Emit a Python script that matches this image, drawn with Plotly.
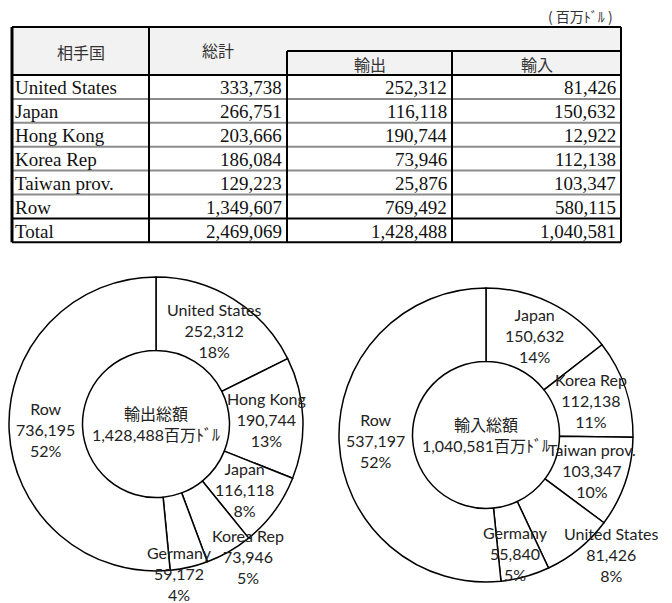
import math
import plotly.graph_objects as go

W, H = 672, 603
OFF = 8  # page body margin

# table data (百万ドル)
partners = ["United States", "Japan", "Hong Kong", "Korea Rep", "Taiwan prov.", "Row", "Total"]
totals = [333738, 266751, 203666, 186084, 129223, 1349607, 2469069]
exports = [252312, 116118, 190744, 73946, 25876, 769492, 1428488]
imports = [81426, 150632, 12922, 112138, 103347, 580115, 1040581]
headers = ["相手国", "総計", "輸出", "輸入"]
unit_label = "( 百万ﾄﾞﾙ )"

# pie data
export_labels = ["United States", "Hong Kong", "Japan", "Korea Rep", "Germany", "Row"]
export_values = [252312, 190744, 116118, 73946, 59172, 736195]
import_labels = ["Japan", "Korea Rep", "Taiwan prov.", "United States", "Germany", "Row"]
import_values = [150632, 112138, 103347, 81426, 55840, 537197]

# table layout in pixels
col_x = [12, 149, 287, 452, 621]
top_y = 27
sub_y = 51
head_y = 75
row_h = 23.9


def px(x):
    return (x - OFF) / W


def py(y):
    return 1 - (y - OFF) / H


shapes = []
annotations = []


def line(x0, y0, x1, y1, color="black", width=2):
    shapes.append(dict(type="line", xref="paper", yref="paper",
                       x0=px(x0), y0=py(y0), x1=px(x1), y1=py(y1),
                       line=dict(color=color, width=width)))


def text(x, y, s, xanchor="center", font=None):
    annotations.append(dict(xref="paper", yref="paper", x=px(x), y=py(y), text=s,
                            showarrow=False, xanchor=xanchor, yanchor="middle",
                            font=font or dict(family="Liberation Serif", size=19, color="#111")))


n = len(partners)
bottom_y = head_y + row_h * n

# header background
shapes.append(dict(type="rect", xref="paper", yref="paper", x0=px(col_x[0]), y0=py(top_y),
                   x1=px(col_x[-1]), y1=py(head_y), fillcolor="#f2f2f2", line=dict(width=0), layer="below"))

# row separators
for i in range(1, n):
    y = head_y + row_h * i
    if i == n - 1:
        line(col_x[0], y, col_x[-1], y)
    else:
        line(col_x[0], y, col_x[-1], y, color="#8c8c8c", width=2)
line(col_x[0], head_y, col_x[-1], head_y)
line(col_x[2], sub_y, col_x[-1], sub_y)
line(col_x[1], top_y, col_x[1], bottom_y)
line(col_x[2], sub_y, col_x[2], bottom_y)
line(col_x[3], sub_y, col_x[3], bottom_y)
# outer border
line(col_x[0], top_y, col_x[-1], top_y)
line(col_x[0], bottom_y, col_x[-1], bottom_y)
line(col_x[0], top_y, col_x[0], bottom_y, width=3)
line(col_x[-1], top_y, col_x[-1], bottom_y)

hfont = dict(family="Noto Sans CJK JP", size=16, color="#333")
text((col_x[0] + col_x[1]) / 2, (top_y + head_y) / 2 + 1, headers[0], font=hfont)
text((col_x[1] + col_x[2]) / 2, (top_y + head_y) / 2 - 1, headers[1], font=hfont)
text((col_x[2] + col_x[3]) / 2, (sub_y + head_y) / 2 + 1, headers[2], font=hfont)
text((col_x[3] + col_x[4]) / 2, (sub_y + head_y) / 2 + 1, headers[3], font=hfont)
text(col_x[-1] - 6, 16, unit_label, xanchor="right",
     font=dict(family="Noto Sans CJK JP", size=14, color="#333"))

for i in range(n):
    yc = head_y + row_h * (i + 0.5) + 1
    text(col_x[0] + 1, yc, partners[i], xanchor="left")
    text(col_x[2] - 3, yc, f"{totals[i]:,}", xanchor="right")
    text(col_x[3] - 3, yc, f"{exports[i]:,}", xanchor="right")
    text(col_x[4] - 3, yc, f"{imports[i]:,}", xanchor="right")

# pies: centre and radius in pixels, label radius factor and angle nudge per slice
pie_font = dict(family="Lato, Noto Sans CJK JP", size=16, color="#222")
pies = [
    dict(labels=export_labels, values=export_values, cx=156, cy=424, r=147,
         rf=[0.75, 0.75, 0.75, 1.1, 1.03, 0.75], da=[0, 0, 0, -5, 4, 0],
         title=f"輸出総額<br>{exports[-1]:,}百万ﾄﾞﾙ"),
    dict(labels=import_labels, values=import_values, cx=486, cy=435, r=147,
         rf=[0.75, 0.75, 0.76, 1.18, 0.83, 0.75], da=[0, 0, 0, -7, 1.5, 0],
         title=f"輸入総額<br>{imports[-1]:,}百万ﾄﾞﾙ"),
]

fig = go.Figure()
for p in pies:
    fig.add_trace(go.Pie(
        labels=p["labels"], values=p["values"],
        sort=False, direction="clockwise", rotation=0, hole=0.5,
        marker=dict(colors=["white"] * len(p["values"]), line=dict(color="black", width=1.5)),
        textinfo="none",
        showlegend=False,
        domain=dict(x=[px(p["cx"] - p["r"]), px(p["cx"] + p["r"])],
                    y=[py(p["cy"] + p["r"]), py(p["cy"] - p["r"])]),
        title=dict(text=p["title"], position="middle center",
                   font=dict(family="Lato, Noto Sans CJK JP", size=16, color="#222")),
    ))
    tot = sum(p["values"])
    cum = 0
    for lab, v, rf, da in zip(p["labels"], p["values"], p["rf"], p["da"]):
        mid = (cum + v / 2) / tot * 360 + da
        cum += v
        rad = math.radians(mid)
        lx = p["cx"] + rf * p["r"] * math.sin(rad)
        ly = p["cy"] - rf * p["r"] * math.cos(rad)
        text(lx, ly, f"{lab}<br>{v:,}<br>{round(v / tot * 100)}%", font=pie_font)

fig.update_layout(
    width=W, height=H,
    margin=dict(l=0, r=0, t=0, b=0),
    paper_bgcolor="white",
    plot_bgcolor="white",
    shapes=shapes,
    annotations=annotations,
)

fig.write_html("out.html")
